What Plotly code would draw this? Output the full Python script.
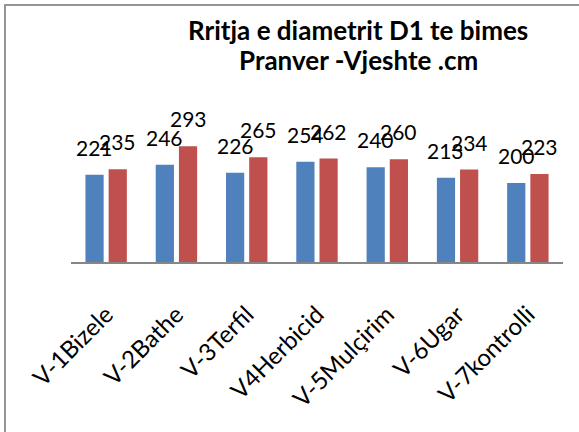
import plotly.graph_objects as go

categories = ["V-1Bizele", "V-2Bathe", "V-3Terfil", "V4Herbicid", "V-5Mulçirim", "V-6Ugar", "V-7kontrolli"]
pranver = [221, 246, 226, 254, 240, 213, 200]
vjeshte = [235, 293, 265, 262, 260, 234, 223]
series_names = ["Pranver", "Vjeshte"]
series_colors = ["#4F81BD", "#C0504D"]
title_lines = ["Rritja e diametrit D1 te bimes", "Pranver -Vjeshte .cm"]

W, H = 579, 432
ML, MR, MT, MB = 71, 16, 104, 170
PW, PH = W - ML - MR, H - MT - MB

fig = go.Figure()
series = [pranver, vjeshte]
for name, vals, col in zip(series_names, series, series_colors):
    fig.add_trace(go.Bar(x=categories, y=vals, name=name, marker_color=col,
                         marker_line_width=0))

slot_px = PW / len(categories) * 0.66 / 2
annotations = []
for si, vals in enumerate(series):
    shift = (si - 0.5) * slot_px
    for c, v in zip(categories, vals):
        annotations.append(dict(x=c, y=v, xref="x", yref="y", text=str(v),
                                showarrow=False, xshift=shift, yanchor="bottom", yshift=13,
                                font=dict(family="Lato", size=21, color="black")))

def px_x(p):
    return (p - ML) / PW

def px_y(p):
    return (H - MB - p) / PH

for line, cy in zip(title_lines, [30, 60]):
    annotations.append(dict(text=line, xref="paper", yref="paper", x=px_x(358), y=px_y(cy),
                            xanchor="center", yanchor="middle", showarrow=False,
                            font=dict(family="Lato", size=26, color="black", weight="bold")))

top_y = 5
shapes = [
    dict(type="line", xref="paper", yref="paper", x0=px_x(4), x1=px_x(579), y0=px_y(top_y), y1=px_y(top_y),
         line=dict(color="#969696", width=2), layer="above"),
    dict(type="line", xref="paper", yref="paper", x0=px_x(5), x1=px_x(5), y0=px_y(top_y - 1), y1=px_y(432),
         line=dict(color="#969696", width=2), layer="above"),
]

fig.update_layout(
    width=W, height=H,
    margin=dict(l=ML, r=MR, t=MT, b=MB),
    paper_bgcolor="white", plot_bgcolor="white",
    barmode="group", bargap=0.34, bargroupgap=0.215,
    showlegend=False,
    annotations=annotations,
    shapes=shapes,
    xaxis=dict(showline=True, linecolor="#868686", linewidth=2, ticks="", tickangle=-45,
               tickfont=dict(family="Lato", size=24, color="black"), ticklabelstandoff=27,
               showgrid=False),
    yaxis=dict(range=[0, 400], visible=False, showgrid=False),
)

fig.write_html("out.html", config={"displayModeBar": False},
               post_script="document.body.style.margin='0';")
